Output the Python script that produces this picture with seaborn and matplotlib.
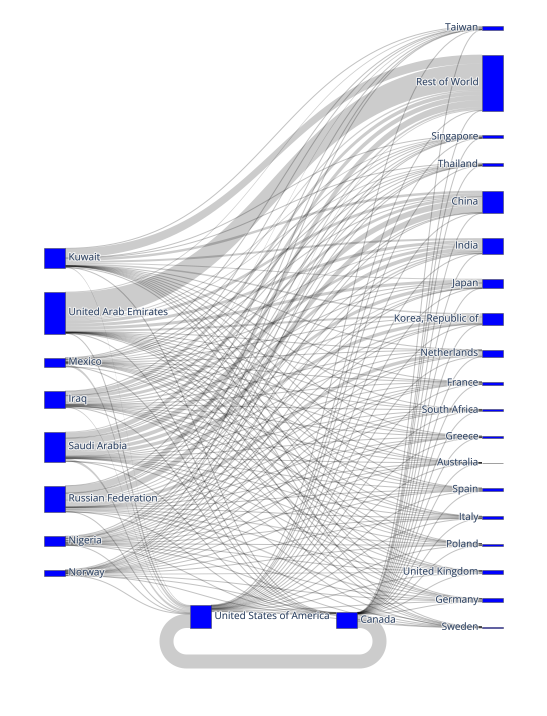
import numpy as np
import matplotlib
matplotlib.use('Agg')
import matplotlib.pyplot as plt
import matplotlib.patheffects as pe
from matplotlib.patches import Rectangle
import seaborn as sns

# nodes
SOURCES = ['Kuwait', 'United Arab Emirates', 'Mexico', 'Iraq', 'Saudi Arabia',
           'Russian Federation', 'Nigeria', 'Norway']
DESTS = ['Taiwan', 'Rest of World', 'Singapore', 'Thailand', 'China', 'India', 'Japan',
         'Korea, Republic of', 'Netherlands', 'France', 'South Africa', 'Greece',
         'Australia', 'Spain', 'Italy', 'Poland', 'United Kingdom', 'Germany', 'Sweden']
US = 'United States of America'
CA = 'Canada'

# flows out of each source: one value per DESTS entry, then US, then Canada
kuwait = [0.8, 9.0, 0.3, 0.3, 2.5, 2.0, 1.0, 1.5, 0.2, 0.1, 0.1, 0.1, 0.1, 0.1, 0.1, 0.05, 0.1, 0.1, 0.05, 1.0, 0.1]
uae = [1.0, 26.0, 1.0, 1.0, 3.0, 3.0, 3.0, 2.0, 0.2, 0.1, 0.2, 0.1, 0.1, 0.1, 0.1, 0.05, 0.1, 0.1, 0.05, 0.5, 0.1]
mexico = [0.1, 1.5, 0.1, 0.1, 0.5, 1.0, 0.3, 0.5, 0.3, 0.2, 0.05, 0.1, 0.05, 0.7, 0.3, 0.05, 0.3, 0.2, 0.05, 2.5, 0.3]
iraq = [0.3, 4.0, 0.3, 0.3, 3.0, 3.0, 0.5, 1.5, 0.5, 0.3, 0.1, 0.5, 0.05, 0.3, 0.6, 0.05, 0.1, 0.1, 0.05, 1.0, 0.1]
saudi = [1.0, 5.0, 0.5, 0.5, 6.0, 4.0, 3.5, 3.5, 0.5, 0.4, 0.5, 0.3, 0.05, 0.5, 0.3, 0.1, 0.2, 0.1, 0.05, 2.5, 0.3]
russia = [0.3, 7.0, 0.3, 0.3, 6.5, 0.5, 1.0, 1.5, 3.5, 0.5, 0.05, 0.3, 0.05, 0.3, 0.5, 1.2, 0.3, 1.5, 0.3, 0.5, 0.1]
nigeria = [0.05, 2.0, 0.05, 0.05, 0.5, 1.6, 0.05, 0.1, 0.8, 0.6, 0.6, 0.1, 0.05, 0.8, 0.3, 0.05, 0.4, 0.2, 0.05, 0.8, 0.2]
norway = [0.05, 1.0, 0.05, 0.05, 0.3, 0.1, 0.1, 0.5, 0.8, 0.3, 0.05, 0.05, 0.05, 0.2, 0.1, 0.3, 1.0, 0.5, 0.4, 0.2, 0.2]
source_rows = [kuwait, uae, mexico, iraq, saudi, russia, nigeria, norway]

# re-exports from the two hubs (one value per DESTS entry)
us_out = [0.2, 0.5, 0.2, 0.2, 0.3, 0.5, 0.3, 0.5, 0.4, 0.3, 0.2, 0.2, 0.1, 0.4, 0.3, 0.2, 0.6, 0.6, 0.2]
canada_out = [0.05, 0.15, 0.05, 0.05, 0.1, 0.1, 0.05, 0.1, 0.1, 0.05, 0.05, 0.05, 0.05, 0.1, 0.1, 0.05, 0.15, 0.1, 0.1]
us_to_canada = 0.5
canada_to_us = 14.0

links = []
for s, row in zip(SOURCES, source_rows):
    for d, v in zip(DESTS + [US, CA], row):
        links.append((s, d, v))
for d, v in zip(DESTS, us_out):
    links.append((US, d, v))
links.append((US, CA, us_to_canada))
for d, v in zip(DESTS, canada_out):
    links.append((CA, d, v))
links.append((CA, US, canada_to_us))

# layout (pixels)
W, H = 547, 716
NODE_W = 21
COL_X = {0: 44, 1: 190, 2: 336, 3: 482}
col = {n: 0 for n in SOURCES}
col.update({n: 3 for n in DESTS})
col[US] = 1
col[CA] = 2

nodes = SOURCES + [US, CA] + DESTS
inflow = {n: 0.0 for n in nodes}
outflow = {n: 0.0 for n in nodes}
for s, t, v in links:
    outflow[s] += v
    inflow[t] += v
size = {n: max(inflow[n], outflow[n]) for n in nodes}

ypos = {}


def stack(names, top, bottom):
    total = sum(size[n] for n in names)
    gap = (bottom - top - total) / (len(names) - 1)
    y = top
    for n in names:
        ypos[n] = y
        y += size[n] + gap


stack(SOURCES, 248, 576)
stack(DESTS, 26, 628)
ypos[US] = 628 - size[US]
ypos[CA] = 628 - size[CA]


def center(n):
    return ypos[n] + size[n] / 2


def is_circ(s, t):
    return col[t] <= col[s]


# link slots at each node
out_off, in_off = {}, {}
for n in nodes:
    outs = [l for l in links if l[0] == n]
    outs.sort(key=lambda l: (is_circ(*l[:2]), center(l[1])))
    y = ypos[n]
    for l in outs:
        out_off[(l[0], l[1])] = y
        y += l[2]
    ins = [l for l in links if l[1] == n]
    ins.sort(key=lambda l: (is_circ(*l[:2]), center(l[0])))
    y = ypos[n]
    for l in ins:
        in_off[(l[0], l[1])] = y
        y += l[2]

sns.set_theme(style='white')
plt.rcParams['font.family'] = ['Open Sans', 'DejaVu Sans']

fig = plt.figure(figsize=(W / 100, H / 100), dpi=100)
ax = fig.add_axes([0, 0, 1, 1])
ax.set_xlim(0, W)
ax.set_ylim(H, 0)
ax.axis('off')

LINK_COL = (0, 0, 0, 0.2)
PX = 72 / 100  # points per pixel
t = np.linspace(0, 1, 60)
bx = 1.5 * t * (1 - t) ** 2 + 1.5 * (1 - t) * t ** 2 + t ** 3
by = 3 * t ** 2 - 2 * t ** 3

for s, d, v in links:
    if is_circ(s, d):
        continue
    x0 = COL_X[col[s]] + NODE_W
    x1 = COL_X[col[d]]
    ya = out_off[(s, d)]
    yb = in_off[(s, d)]
    xs = x0 + (x1 - x0) * bx
    top = ya + (yb - ya) * by
    if v < 1.0:
        ax.plot(xs, top + v / 2, color=(0, 0, 0, 0.24), lw=1.0 * PX,
                solid_capstyle='butt', zorder=1)
    else:
        bot = top + v
        ax.fill(np.concatenate([xs, xs[::-1]]), np.concatenate([top, bot[::-1]]),
                color=LINK_COL, lw=0, zorder=1)

# circular link Canada -> US, drawn round the bottom
v = canada_to_us
yc = out_off[(CA, US)] + v / 2
yu = in_off[(CA, US)] + v / 2
xr = COL_X[col[CA]] + NODE_W + 22.5
xl = COL_X[col[US]] - 23.5
yb = ypos[CA] + size[CA] + 33.5
r = 20
a = np.linspace(0, np.pi / 2, 20)
px = np.concatenate([[COL_X[col[CA]] + NODE_W], xr - r + r * np.sin(a), xr - r + r * np.cos(a),
                     xl + r - r * np.sin(a), xl + r - r * np.cos(a), [COL_X[col[US]]]])
py = np.concatenate([[yc], yc + r - r * np.cos(a), yb - r + r * np.sin(a),
                     yb - r + r * np.cos(a), yu + r - r * np.sin(a), [yu]])
ax.plot(px, py, color=LINK_COL, lw=v * PX, solid_capstyle='butt',
        solid_joinstyle='round', zorder=1)

# nodes and labels
halo = [pe.withStroke(linewidth=1.6, foreground=(1, 1, 1, 0.7))]
for n in nodes:
    x = COL_X[col[n]]
    ax.add_patch(Rectangle((x, ypos[n]), NODE_W, size[n], facecolor='#0000ff',
                           edgecolor='#444444', lw=0.5 * PX, zorder=3))
    if col[n] == 3:
        ax.text(x - 3.5, center(n), n, ha='right', va='center', fontsize=10 * PX,
                color='#2a3f5f', path_effects=halo, zorder=4)
    else:
        ax.text(x + NODE_W + 3.5, center(n), n, ha='left', va='center', fontsize=10 * PX,
                color='#2a3f5f', path_effects=halo, zorder=4)

fig.savefig('out.png', dpi=100)
